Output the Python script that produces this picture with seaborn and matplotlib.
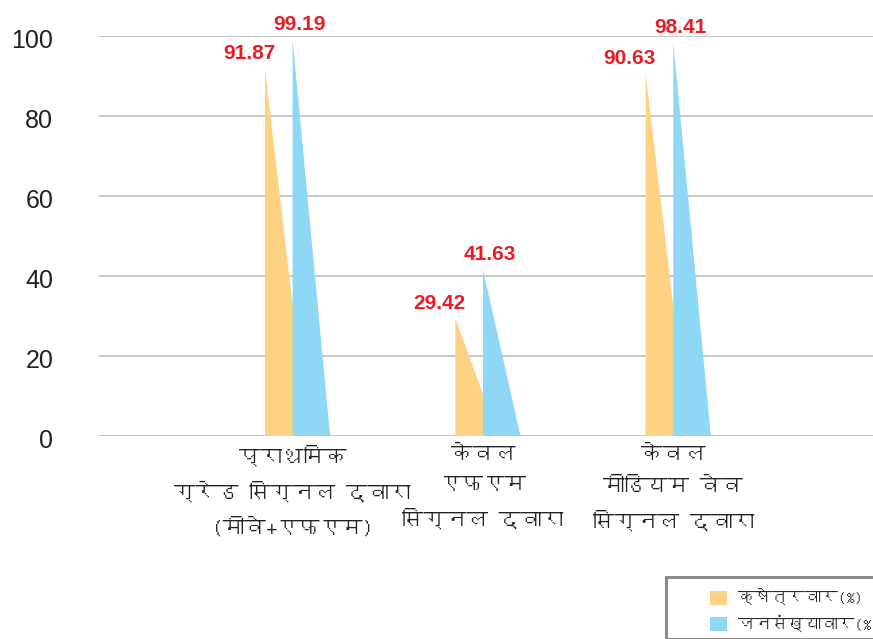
import numpy as np
import pandas as pd
import matplotlib
matplotlib.use("Agg")
import matplotlib.pyplot as plt
from matplotlib.patches import Polygon, Rectangle, Patch
from matplotlib import font_manager as fm
from matplotlib.transforms import ScaledTranslation
import seaborn as sns

# ---------------- data ----------------
categories = ["प्राथमिक\nग्रेड सिग्नल द्वारा\n(मीवे+एफएम)",
              "केवल\nएफएम\nसिग्नल द्वारा",
              "केवल\nमीडियम वेव\nसिग्नल द्वारा"]
series_names = ["क्षेत्रवार(%)", "जनसंख्यावार(%"]
area_values = [91.87, 29.42, 90.63]
population_values = [99.19, 41.63, 98.41]
y_ticks = [0, 20, 40, 60, 80, 100]

# ---------------- fonts ----------------
deva = None
try:
    from fontTools.ttLib import TTFont
    for f in fm.fontManager.ttflist:
        try:
            t = TTFont(f.fname, fontNumber=0, lazy=True)
            cm = t.getBestCmap()
            if cm and 0x0915 in cm:
                deva = f.name
                break
        except Exception:
            pass
except Exception:
    pass

sns.set_theme(style="white")
latin = "Liberation Sans"
fam = [latin] + ([deva] if deva else []) + ["DejaVu Sans"]
deva_fam = ([deva] if deva else []) + [latin, "DejaVu Sans"]
plt.rcParams["font.family"] = fam

YELLOW = "#FED283"
BLUE = "#8ED8F6"
RED = "#EC1C24"
GRID = "#C8C8C8"

W, H = 873, 639
fig = plt.figure(figsize=(W / 100, H / 100), dpi=100)
ax = fig.add_axes([99 / W, 1 - 436 / H, (W - 99) / W, (436 - 36) / H])

df = pd.DataFrame({
    "cat": categories * 2,
    "val": area_values + population_values,
    "series": [series_names[0]] * 3 + [series_names[1]] * 3,
})
sns.barplot(data=df, x="cat", y="val", hue="series", hue_order=series_names,
            palette=[YELLOW, BLUE], width=0.29, saturation=1, legend=False, ax=ax)

# turn each bar into a right triangle
widen = [1.56, 1.36]
label_dx = [-11.5, 5.0]  # points
for k, cont in enumerate(ax.containers):
    for bar in cont:
        x0 = bar.get_x()
        w = bar.get_width()
        h = bar.get_height()
        col = bar.get_facecolor()
        bar.set_visible(False)
        tri = Polygon([(x0, 0), (x0, h), (x0 + w * widen[k], 0)], closed=True,
                      facecolor=col, edgecolor="none", zorder=2 + k)
        ax.add_patch(tri)
        ax.annotate(f"{h:.2f}", xy=(x0, h), xytext=(label_dx[k], 4),
                    textcoords="offset points", ha="center", va="bottom",
                    color=RED, fontsize=15, fontweight="bold",
                    family=latin, annotation_clip=False, zorder=5)

ax.set_ylim(0, 100)
ax.set_xlim(-1.017, 3.049)
ax.set_yticks(y_ticks)
ax.set_yticklabels([str(v) for v in y_ticks], fontsize=18, color="#222222", family=latin)
ax.tick_params(axis="y", length=0, pad=33)
ax.tick_params(axis="x", length=0, pad=7)
off = ScaledTranslation(0, -3 / 100, fig.dpi_scale_trans)
for lab in ax.get_yticklabels():
    lab.set_transform(lab.get_transform() + off)
ax.set_xticks([0, 1, 2])
ax.set_xticklabels(categories, fontsize=15.5, color="#222222", linespacing=1.8,
                   family=deva_fam, va="top")
ax.set_xlabel("")
ax.set_ylabel("")
ax.yaxis.grid(True, color=GRID, lw=1.4)
ax.set_axisbelow(True)
for s in ax.spines.values():
    s.set_visible(False)

# legend box
fig.patches.append(Rectangle((666 / W, 0), (W + 20 - 666) / W, 1 - 577 / H,
                             transform=fig.transFigure, facecolor="white",
                             edgecolor="#8C8C8C", lw=2.2, clip_on=False))
handles = [Patch(facecolor=YELLOW, edgecolor="none"), Patch(facecolor=BLUE, edgecolor="none")]
leg = fig.legend(handles, series_names, loc="upper left",
                 bbox_to_anchor=(710 / W, 1 - 589 / H), frameon=False,
                 borderpad=0, borderaxespad=0, handlelength=1.0, handleheight=0.9,
                 handletextpad=0.65, labelspacing=0.5,
                 prop={"family": deva_fam, "size": 12})

fig.savefig("out.png", dpi=100)
